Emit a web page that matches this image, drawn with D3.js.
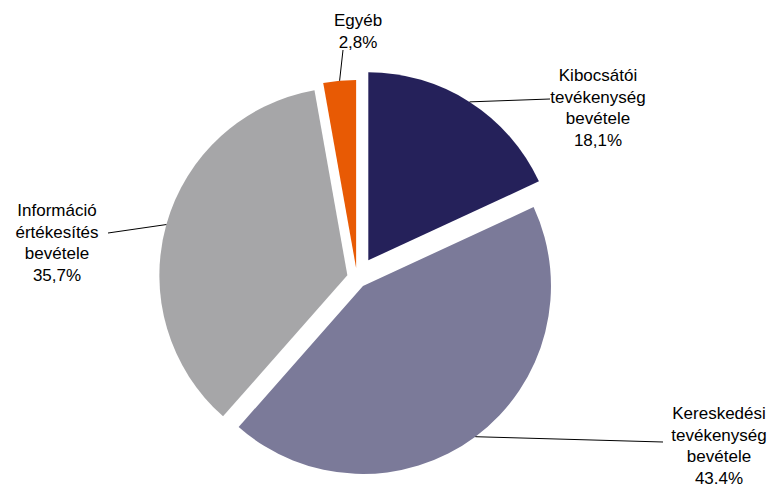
<!DOCTYPE html>
<html lang="hu">

<head>
    <meta charset="UTF-8">
    <title>Bevételek megoszlása</title>
    <style>
        body {
            margin: 0;
            background: #fff;
        }

        svg {
            display: block;
            font-family: "Liberation Sans", Arial, sans-serif;
        }
    </style>
</head>

<body>
    <svg width="775" height="488"></svg>

    <script src="https://d3js.org/d3.v7.min.js"></script>
    <script>
        // data
        const categories = [
            ["Kibocsátói", "tevékenység", "bevétele"],
            ["Kereskedési", "tevékenység", "bevétele"],
            ["Információ", "értékesítés", "bevétele"],
            ["Egyéb"]
        ];
        const values = [18.1, 43.4, 35.7, 2.8];
        const valueLabels = ["18,1%", "43.4%", "35,7%", "2,8%"];
        const colors = ["#25215a", "#7b7a99", "#a6a6a8", "#e85a04"];

        // layout
        const cx = 357, cy = 278, radius = 188;
        const explode = [21, 10, 10, 10];
        // label centre x, first baseline y, leader end point
        const labelPos = [
            { x: 598, y: 81, end: [550, 99] },
            { x: 719, y: 419, end: [663, 442] },
            { x: 57, y: 216, end: [108, 233] },
            { x: 358, y: 26, end: [343, 50] }
        ];
        const lineH = 21.5;

        const svg = d3.select("svg");

        const pie = d3.pie().sort(null).value(d => d);
        const arcs = pie(values);
        const arc = d3.arc().innerRadius(0).outerRadius(radius);

        // offset of an exploded slice
        function shift(d, i) {
            const a = (d.startAngle + d.endAngle) / 2;
            return [Math.sin(a) * explode[i], -Math.cos(a) * explode[i]];
        }

        const g = svg.append("g").attr("transform", "translate(" + cx + "," + cy + ")");

        g.selectAll("path")
            .data(arcs)
            .enter()
            .append("path")
            .attr("d", arc)
            .attr("fill", (d, i) => colors[i])
            .attr("transform", (d, i) => "translate(" + shift(d, i) + ")");

        // leader lines from the arc (mid angle) to the label
        svg.append("g")
            .selectAll("line")
            .data(arcs)
            .enter()
            .append("line")
            .attr("x1", (d, i) => {
                const a = (d.startAngle + d.endAngle) / 2;
                return cx + shift(d, i)[0] + Math.sin(a) * radius;
            })
            .attr("y1", (d, i) => {
                const a = (d.startAngle + d.endAngle) / 2;
                return cy + shift(d, i)[1] - Math.cos(a) * radius;
            })
            .attr("x2", (d, i) => labelPos[i].end[0])
            .attr("y2", (d, i) => labelPos[i].end[1])
            .style("stroke", "#000")
            .style("stroke-width", 1);

        // labels
        const labels = svg.append("g")
            .selectAll("text")
            .data(arcs)
            .enter()
            .append("text")
            .attr("text-anchor", "middle")
            .style("font-size", "17px")
            .style("fill", "#000");

        labels.each(function (d, i) {
            const lines = categories[i].concat([valueLabels[i]]);
            d3.select(this).selectAll("tspan")
                .data(lines)
                .enter()
                .append("tspan")
                .attr("x", labelPos[i].x)
                .attr("y", (t, j) => labelPos[i].y + j * lineH)
                .text(t => t);
        });
    </script>
</body>

</html>
